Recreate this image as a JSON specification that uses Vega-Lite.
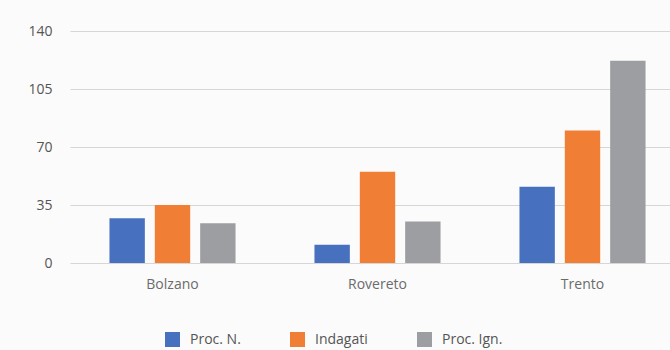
{
  "$schema": "https://vega.github.io/schema/vega-lite/v6.json",
  "width": 615,
  "height": 232,
  "autosize": {"type": "none"},
  "padding": {"left": 70, "top": 31, "right": 0, "bottom": 87},
  "background": "#fbfbfb",
  "config": {
    "view": {"stroke": null},
    "font": "Lato"
  },
  "data": {
    "values": [
      {"city": "Bolzano", "serie": "Proc. N.", "value": 27},
      {"city": "Bolzano", "serie": "Indagati", "value": 35},
      {"city": "Bolzano", "serie": "Proc. Ign.", "value": 24},
      {"city": "Rovereto", "serie": "Proc. N.", "value": 11},
      {"city": "Rovereto", "serie": "Indagati", "value": 55},
      {"city": "Rovereto", "serie": "Proc. Ign.", "value": 25},
      {"city": "Trento", "serie": "Proc. N.", "value": 46},
      {"city": "Trento", "serie": "Indagati", "value": 80},
      {"city": "Trento", "serie": "Proc. Ign.", "value": 122}
    ]
  },
  "mark": {"type": "bar"},
  "encoding": {
    "x": {
      "field": "city",
      "type": "nominal",
      "sort": ["Bolzano", "Rovereto", "Trento"],
      "scale": {"paddingInner": 0.385, "paddingOuter": 0.1925},
      "axis": {
        "title": null,
        "domain": false,
        "ticks": false,
        "labelAngle": 0,
        "labelFontSize": 14,
        "labelColor": "#6b6b6b",
        "labelPadding": 14,
        "labelFont": "Open Sans"
      }
    },
    "xOffset": {
      "field": "serie",
      "type": "nominal",
      "sort": ["Proc. N.", "Indagati", "Proc. Ign."],
      "scale": {"paddingInner": 0.22, "paddingOuter": 0}
    },
    "y": {
      "field": "value",
      "type": "quantitative",
      "scale": {"domain": [0, 140], "nice": false},
      "axis": {
        "title": null,
        "values": [0, 35, 70, 105, 140],
        "domain": false,
        "ticks": false,
        "gridColor": "#d6d6d6",
        "gridWidth": 1.2,
        "labelFontSize": 14,
        "labelColor": "#555555",
        "labelPadding": 18,
        "labelFont": "Open Sans"
      }
    },
    "color": {
      "field": "serie",
      "type": "nominal",
      "sort": ["Proc. N.", "Indagati", "Proc. Ign."],
      "scale": {
        "domain": ["Proc. N.", "Indagati", "Proc. Ign."],
        "range": ["#4770bf", "#f07e35", "#9d9ea2"]
      },
      "legend": {
        "title": null,
        "orient": "none",
        "direction": "horizontal",
        "legendX": 95,
        "legendY": 301,
        "symbolType": "square",
        "symbolSize": 225,
        "symbolStrokeWidth": 0,
        "labelFontSize": 14,
        "labelColor": "#555555",
        "labelFont": "Open Sans",
        "labelOffset": 10,
        "columnPadding": 49
      }
    }
  }
}
